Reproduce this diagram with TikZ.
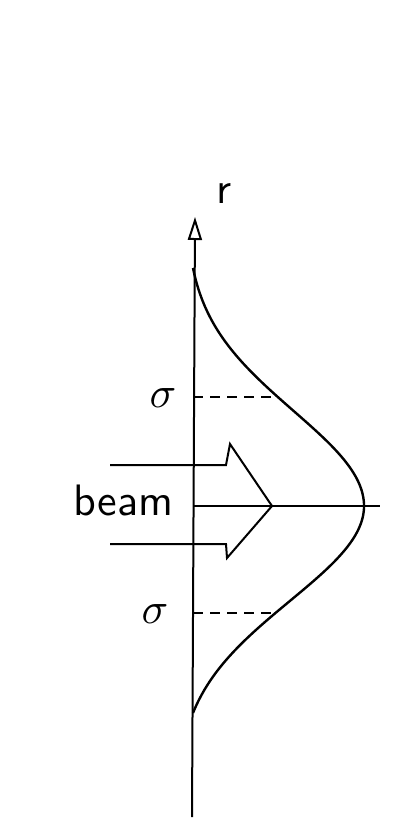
\documentclass[tikz,border=0pt]{standalone}
\usepackage{tikz}
\usetikzlibrary{arrows.meta,positioning}

\begin{document}
\begin{tikzpicture}[
    x=1pt, y=-1pt,
    line/.style={draw, line width=2pt},
    curve/.style={draw, line width=2.4pt},
    guide/.style={draw, line width=1.8pt, dash pattern=on 10pt off 7pt},
    lbl/.style={font=\sffamily, scale=4.4, inner sep=0pt}
]
    \useasboundingbox (0,0) rectangle (412,820);

    % axes
    \coordinate (O) at (193,506);
    \coordinate (Rbot) at (192,817);
    \coordinate (Rtop) at (195,217);
    \coordinate (Xend) at (380,506);
    \draw[line, -{Triangle[open, length=23pt, width=14pt]}] (Rbot) -- (Rtop);
    \draw[line] (O) -- (Xend);
    \node[lbl] (r) at (224,193) {r};

    % beam profile
    \draw[curve] plot[domain=-238:0, samples=80, smooth]
        ({193+171*(exp(-0.5*(\x/95)*(\x/95))-0.0434)/0.9566}, {506+\x})
        -- plot[domain=0:207, samples=80, smooth]
        ({193+171*(exp(-0.5*(\x/95)*(\x/95))-0.0931)/0.9069}, {506+\x});

    % sigma marks
    \coordinate (sU) at (193,397);
    \coordinate (cU) at (278,397);
    \coordinate (sL) at (193,613);
    \coordinate (cL) at (274,613);
    \draw[guide] (sU) -- (cU);
    \draw[guide] (sL) -- (cL);
    \node[lbl] (sigU) at (163,398) {$\sigma$};
    \node[lbl] (sigL) at (155,614) {$\sigma$};

    % beam arrow
    \draw[line] (110,465) -- (226,465) -- (230,444) -- (272,506)
        -- (227,558) -- (226,544) -- (110,544);
    \node[lbl, anchor=base east] (beam) at (174,515) {beam};
\end{tikzpicture}
\end{document}
